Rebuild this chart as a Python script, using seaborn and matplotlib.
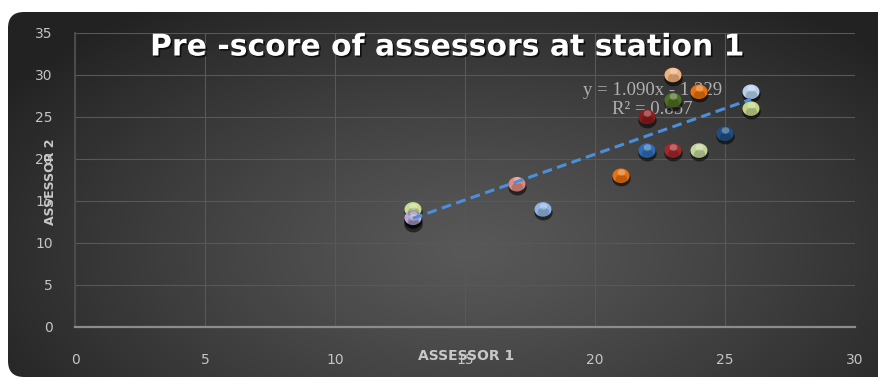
import numpy as np
import pandas as pd
import matplotlib
matplotlib.use("Agg")
import matplotlib.pyplot as plt
import matplotlib.patheffects as pe
import matplotlib.transforms as mtransforms
from matplotlib.patches import FancyBboxPatch
from matplotlib.path import Path
from matplotlib import font_manager
import seaborn as sns

# Station 1 pre-scores given by the two assessors
assessor_1 = [13, 13, 13, 17, 18, 21, 22, 23, 24, 25, 22, 23, 24, 23, 26, 26]
assessor_2 = [14, 12.6, 13, 17, 14, 18, 21, 21, 21, 23, 25, 27, 28, 30, 28, 26]

# Linear trendline reported on the chart
trend_slope = 1.090
trend_intercept = -1.229
r_squared = 0.857

x_ticks = [0, 5, 10, 15, 20, 25, 30]
y_ticks = [0, 5, 10, 15, 20, 25, 30, 35]

title_text = "Pre -score of assessors at station 1"
x_label = "ASSESSOR 1"
y_label = "ASSESSOR 2"

ball_colors = ["#c8dc8e", "#0a0a0a", "#b9a9dc", "#de8a82", "#8fb5e3", "#e8700e",
               "#2f6cb5", "#a3282a", "#c3d69b", "#1f4f82", "#8b1c1c", "#4f6f22",
               "#e8700e", "#f2b27e", "#b7d0ee", "#c2d685"]


def families(*names):
    have = {f.name for f in font_manager.fontManager.ttflist}
    return [n for n in names if n in have] + ["DejaVu Sans"]


sns.set_theme(style="dark")
plt.rcParams["font.family"] = families("DejaVu Sans")

W, H = 879, 381
fig = plt.figure(figsize=(W / 100, H / 100), dpi=100)
fig.patch.set_facecolor("white")

# Rounded dark panel with a soft radial glow
bg = fig.add_axes([0, 0, 1, 1], zorder=-10)
bg.set_xlim(0, W)
bg.set_ylim(H, 0)
bg.axis("off")
gx, gy = np.meshgrid(np.arange(W), np.arange(H))
d = np.sqrt(((gx - 470) / 560.0) ** 2 + ((gy - 250) / 300.0) ** 2)
t = np.clip(d, 0, 1) ** 1.2
c_in, c_out = np.array([0x58, 0x58, 0x58]) / 255, np.array([0x22, 0x22, 0x22]) / 255
img = c_in[None, None, :] * (1 - t[..., None]) + c_out[None, None, :] * t[..., None]
im = bg.imshow(img, extent=(0, W, H, 0), aspect="auto", interpolation="bilinear")
panel = FancyBboxPatch((8, 12), 900, 365, boxstyle="round,pad=0,rounding_size=16",
                       facecolor="none", edgecolor="none")
bg.add_patch(panel)
im.set_clip_path(panel)

# Plot area
ax = fig.add_axes([75 / W, (H - 327) / H, 780 / W, 294 / H])
ax.set_facecolor("none")
ax.set_xlim(0, 30)
ax.set_ylim(0, 35)
ax.set_xticks(x_ticks)
ax.set_yticks(y_ticks)
ax.grid(True, color="#585858", linewidth=0.8)
for s in ["top", "right"]:
    ax.spines[s].set_visible(False)
ax.spines["left"].set_color("#4c4c4c")
ax.spines["left"].set_linewidth(1.4)
ax.spines["bottom"].set_color("#8c8c8c")
ax.spines["bottom"].set_linewidth(1.6)
ax.tick_params(axis="both", length=0, colors="#c4c4c4", labelsize=10)
ax.tick_params(axis="y", pad=16)
ax.tick_params(axis="x", pad=19)

# Equation of the fit (sits under the balls)
ax.text(0.74, 0.772,
        f"y = {trend_slope:.3f}x - {abs(trend_intercept):.3f}\nR\u00b2 = {r_squared:.3f}",
        transform=ax.transAxes, ha="center", va="center", fontsize=13.5,
        color="#b0b0b0", linespacing=1.1, zorder=2,
        family=families("Liberation Serif", "DejaVu Serif"))

# Ellipse-shaped ball marker
th = np.linspace(0, 2 * np.pi, 64)
ball = Path(np.c_[np.cos(th), 0.86 * np.sin(th)], closed=True)

df = pd.DataFrame({"a1": assessor_1, "a2": assessor_2,
                   "pt": [str(i) for i in range(len(assessor_1))]})

shadow_tr = mtransforms.offset_copy(ax.transData, fig=fig, x=0.3, y=-1.8, units="points")
ax.scatter(df["a1"], df["a2"], s=175, marker=ball, color="black", alpha=0.55,
           linewidths=0, transform=shadow_tr, zorder=3)

sns.scatterplot(data=df, x="a1", y="a2", hue="pt", palette=ball_colors, s=150,
                marker=ball, linewidth=0, legend=False, ax=ax, zorder=4)

shade_tr = mtransforms.offset_copy(ax.transData, fig=fig, x=0, y=-2.2, units="points")
ax.scatter(df["a1"], df["a2"], s=70, marker=ball, color="black", alpha=0.18,
           linewidths=0, transform=shade_tr, zorder=5)
hi_tr = mtransforms.offset_copy(ax.transData, fig=fig, x=0, y=2.8, units="points")
ax.scatter(df["a1"], df["a2"], s=30, marker=ball, color="white", alpha=0.3,
           linewidths=0, transform=hi_tr, zorder=6)

# Dashed linear trendline over the balls
xs = np.array([min(assessor_1), max(assessor_1)])
ax.plot(xs, trend_slope * xs + trend_intercept, color="#4a8fdb", linewidth=2.2,
        dashes=(3.2, 1.8), zorder=7)

ax.set_xlabel(x_label, fontsize=10, fontweight="bold", color="#c8c8c8")
ax.set_ylabel(y_label, fontsize=9, fontweight="bold", color="#c8c8c8")
ax.xaxis.label.set_va("center")
ax.yaxis.label.set_va("center")
ax.xaxis.set_label_coords((466 - 75) / 780, (327 - 356) / 294)
ax.yaxis.set_label_coords((50 - 75) / 780, (327 - 182) / 294)

fig.text(447 / W, 1 - 47 / H, title_text, ha="center", va="center",
         fontsize=21.5, fontweight="bold", color="white",
         path_effects=[pe.withSimplePatchShadow(offset=(1.2, -1.2),
                                                shadow_rgbFace="black", alpha=0.7)])

fig.savefig("out.png", dpi=100, facecolor=fig.get_facecolor())
